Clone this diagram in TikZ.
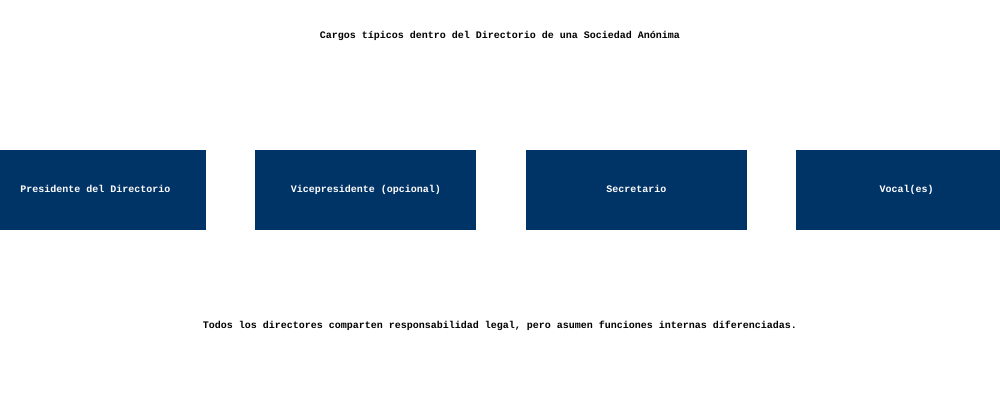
\documentclass[tikz,border=0pt]{standalone}
\usepackage{fontspec}
\setmonofont{Liberation Mono}
\usetikzlibrary{positioning}
\definecolor{boardblue}{HTML}{003366}
\tikzset{
  cargo/.style={fill=boardblue, text=white, minimum width=221pt, minimum height=80pt,
    inner sep=0pt, text height=7pt, text depth=2pt,
    font=\ttfamily\bfseries\fontsize{10pt}{12pt}\selectfont},
  caption/.style={font=\ttfamily\bfseries\fontsize{10pt}{12pt}\selectfont}
}
\begin{document}
\begin{tikzpicture}[x=1pt,y=1pt]
      \useasboundingbox (0,0) rectangle (1000,-400);
      \node[caption] (title) at (500,-36) {Cargos típicos dentro del Directorio de una Sociedad Anónima};
      \node[cargo] (pres) at (95.5,-190) {Presidente del Directorio};
      \node[cargo, right=49pt of pres] (vice) {Vicepresidente (opcional)};
      \node[cargo, right=49pt of vice] (secr) {Secretario};
      \node[cargo, right=49pt of secr] (vocal) {Vocal(es)};
      \node[caption] (note) at (500,-326) {Todos los directores comparten responsabilidad legal, pero asumen funciones internas diferenciadas.};
    \end{tikzpicture}
\end{document}
